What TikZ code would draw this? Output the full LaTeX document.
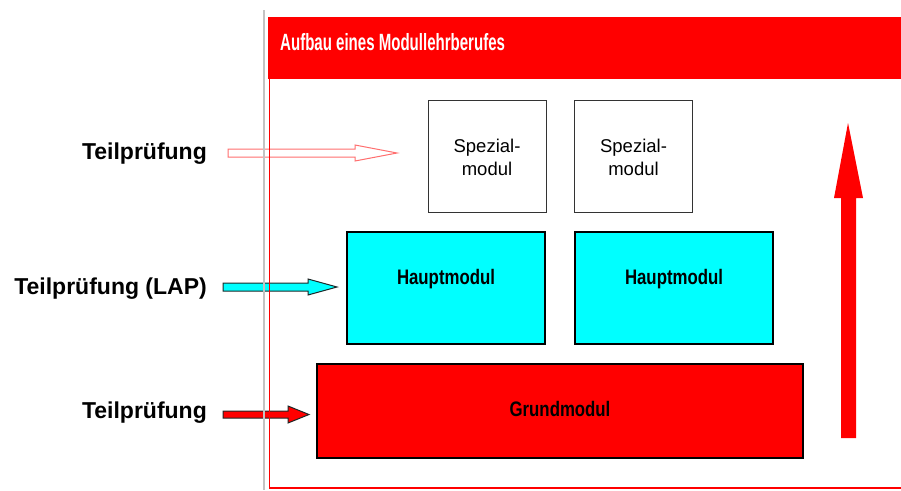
\documentclass[tikz,border=0pt]{standalone}
\usepackage{fontspec}
\setmainfont{Liberation Sans}
\newfontfamily\narrowfont[FakeStretch=0.80]{Liberation Sans}
\newfontfamily\titlefont[FakeStretch=0.64]{Liberation Sans}
\definecolor{myred}{RGB}{255,0,0}
\definecolor{mycyan}{RGB}{0,255,255}
\definecolor{lightred}{RGB}{255,110,110}
\definecolor{framegray}{RGB}{195,195,195}
\definecolor{edgedark}{RGB}{30,40,40}
\tikzset{
  leftlabel/.style={anchor=east, inner sep=0pt, font=\fontsize{23}{27}\selectfont\bfseries},
  spezbox/.style={draw=black!80, line width=1pt, fill=white, minimum width=118pt, minimum height=112pt, inner sep=0pt},
  hauptbox/.style={draw=black, line width=1.4pt, fill=mycyan, minimum width=198pt, minimum height=112pt, inner sep=0pt},
  grundbox/.style={draw=black, line width=1.4pt, fill=myred, minimum width=486pt, minimum height=94pt, inner sep=0pt},
  speztext/.style={align=center, inner sep=0pt, font=\fontsize{18.5}{23}\selectfont},
  modtext/.style={anchor=base, inner sep=0pt, font=\narrowfont\fontsize{21}{25}\selectfont\bfseries},
  outlinearrow/.style={draw=lightred, line width=1pt, fill=white},
  cyanarrow/.style={draw=edgedark, line width=1pt, fill=mycyan},
  redarrow/.style={draw=edgedark, line width=1pt, fill=myred},
  bigarrow/.style={fill=myred, draw=none}
}
\begin{document}
\begin{tikzpicture}[x=1pt,y=-1pt]
\useasboundingbox (0,0) rectangle (901,490);
% header and frame
\fill[myred] (268,17) rectangle (901,79);
\node[anchor=base west, inner sep=0pt, text=white, font=\titlefont\fontsize{23.5}{27}\selectfont\bfseries] (title) at (280,50) {Aufbau eines Modullehrberufes};

% left block arrows
\draw[outlinearrow] (228,149) -- (355,149) -- (355,145) -- (397,153) -- (355,161) -- (355,157) -- (228,157) -- cycle;
\draw[cyanarrow] (223,283) -- (308,283) -- (308,279) -- (337,287) -- (308,295) -- (308,291) -- (223,291) -- cycle;
\draw[redarrow] (223,411) -- (288,411) -- (288,406) -- (309,414.5) -- (288,423) -- (288,418) -- (223,418) -- cycle;

% frame lines (over the arrows)
\draw[framegray, line width=1.3pt] (264,10) -- (264,490);
\draw[myred, line width=1.8pt] (269.5,17) -- (269.5,488) -- (901,488);

% left labels
\node[leftlabel] (l1) at (207,154) {Teilprüfung};
\node[leftlabel] (l2) at (207,289) {Teilprüfung (LAP)};
\node[leftlabel] (l3) at (207,413) {Teilprüfung};

% modules
\node[spezbox] (s1) at (487,156) {};
\node[spezbox] (s2) at (633.5,156) {};
\node[speztext] (s1t) at (487,157) {Spezial-\\modul};
\node[speztext] (s2t) at (633.5,157) {Spezial-\\modul};

\node[hauptbox] (h1) at (446,288) {};
\node[hauptbox] (h2) at (674,288) {};
\node[modtext] (h1t) at (446,284) {Hauptmodul};
\node[modtext] (h2t) at (674,284) {Hauptmodul};

\node[grundbox] (g) at (560,411) {};
\node[modtext] (gt) at (560,416) {Grundmodul};

% big upward arrow
\fill[bigarrow] (841,438) -- (841,198) -- (834,198) -- (848,123) -- (863,198) -- (856,198) -- (856,438) -- cycle;
\end{tikzpicture}
\end{document}
